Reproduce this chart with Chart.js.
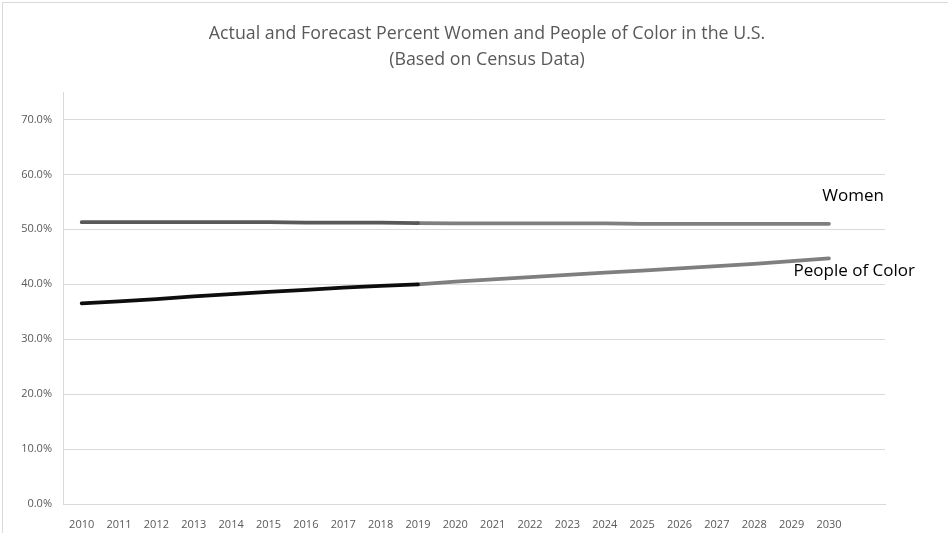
<!DOCTYPE html>
<html>
<head>
<meta charset="utf-8">
<script src="https://cdn.jsdelivr.net/npm/chart.js@4"></script>
<style>
  html, body { margin: 0; padding: 0; background: #fff; overflow: hidden; }
  .frame { position: absolute; left: 2px; top: 2px; width: 1000px; height: 600px; border: 1px solid #d9d9d9; }
  .wrap { position: absolute; left: 0; top: 0; width: 948px; height: 533px; }
</style>
</head>
<body>
<div class="frame"></div>
<div class="wrap"><canvas id="chart"></canvas></div>
<script>
// Chart data (percent)
const TITLE = ['Actual and Forecast Percent Women and People of Color in the U.S.', '(Based on Census Data)'];

const actualYears   = [2010, 2011, 2012, 2013, 2014, 2015, 2016, 2017, 2018, 2019];
const forecastYears = [2019, 2020, 2021, 2022, 2023, 2024, 2025, 2026, 2027, 2028, 2029, 2030];

const womenActual   = [51.3, 51.3, 51.3, 51.3, 51.3, 51.3, 51.2, 51.2, 51.2, 51.15];
const womenForecast = [51.15, 51.1, 51.1, 51.1, 51.1, 51.1, 51.0, 51.0, 51.0, 51.0, 51.0, 51.0];

const pocActual     = [36.5, 36.9, 37.3, 37.8, 38.2, 38.6, 39.0, 39.4, 39.7, 40.0];
const pocForecast   = [40.0, 40.5, 40.9, 41.3, 41.7, 42.1, 42.5, 42.9, 43.3, 43.7, 44.2, 44.7];

const xTicks = [2010, 2011, 2012, 2013, 2014, 2015, 2016, 2017, 2018, 2019, 2020,
                2021, 2022, 2023, 2024, 2025, 2026, 2027, 2028, 2029, 2030];
const yTicks = [0, 10, 20, 30, 40, 50, 60, 70];

const SERIES_LABELS = { women: 'Women', poc: 'People of Color' };

const FONT = '"Open Sans", "Noto Sans", sans-serif';
const GRID = '#d9d9d9';
const TICK = '#595959';

const pts = (xs, ys) => xs.map((x, i) => ({ x, y: ys[i] }));

function line(label, xs, ys, color) {
  return {
    label,
    data: pts(xs, ys),
    borderColor: color,
    backgroundColor: color,
    borderWidth: 3.75,
    borderCapStyle: 'round',
    borderJoinStyle: 'round',
    pointRadius: 0,
    tension: 0,
    fill: false,
  };
}

// two-line title, centred a bit right of the plot like the original
const titleBlock = {
  id: 'titleBlock',
  afterDraw(chart) {
    const { ctx } = chart;
    ctx.save();
    ctx.font = '17.8px ' + FONT;
    ctx.fillStyle = '#595959';
    ctx.textAlign = 'center';
    ctx.textBaseline = 'middle';
    ctx.fillText(TITLE[0], 487, 34);
    ctx.fillText(TITLE[1], 487, 60);
    ctx.restore();
  }
};

// text labels next to the end of each series
const endLabels = {
  id: 'endLabels',
  afterDatasetsDraw(chart) {
    const { ctx, scales: { x, y } } = chart;
    const lastX = x.getPixelForValue(forecastYears[forecastYears.length - 1]);
    ctx.save();
    ctx.font = '17px ' + FONT;
    ctx.fillStyle = '#000';
    ctx.textBaseline = 'middle';
    ctx.textAlign = 'right';
    ctx.fillText(SERIES_LABELS.women, lastX + 55, y.getPixelForValue(womenForecast[womenForecast.length - 1]) - 28);
    ctx.fillText(SERIES_LABELS.poc, lastX + 86, y.getPixelForValue(pocForecast[pocForecast.length - 1]) + 13);
    ctx.restore();
  }
};

new Chart(document.getElementById('chart'), {
  type: 'line',
  data: {
    datasets: [
      line('Women (actual)', actualYears, womenActual, '#595959'),
      line('Women (forecast)', forecastYears, womenForecast, '#7f7f7f'),
      line('People of Color (actual)', actualYears, pocActual, '#0d0d0d'),
      line('People of Color (forecast)', forecastYears, pocForecast, '#7f7f7f'),
    ],
  },
  options: {
    responsive: true,
    maintainAspectRatio: false,
    animation: false,
    layout: { padding: { left: 0, right: 63, top: 92, bottom: 0 } },
    plugins: {
      legend: { display: false },
      tooltip: { enabled: false },
      title: { display: false },
    },
    scales: {
      x: {
        type: 'linear',
        min: 2009.5,
        max: 2031.5,
        afterBuildTicks: axis => { axis.ticks = xTicks.map(v => ({ value: v })); },
        afterFit: axis => { axis.height = 29; },
        grid: { display: false },
        border: { display: true, color: GRID, width: 1 },
        ticks: { color: TICK, font: { family: FONT, size: 11 }, padding: 6, maxRotation: 0, autoSkip: false, callback: v => String(v) },
      },
      y: {
        min: 0,
        max: 75,
        afterBuildTicks: axis => { axis.ticks = yTicks.map(v => ({ value: v })); },
        afterFit: axis => { axis.width = 63; },
        grid: { color: GRID, lineWidth: 1, drawTicks: false },
        border: { display: true, color: GRID, width: 1 },
        ticks: { color: TICK, font: { family: FONT, size: 11 }, padding: 11, callback: v => v.toFixed(1) + '%' },
      },
    },
  },
  plugins: [titleBlock, endLabels],
});
</script>
</body>
</html>
